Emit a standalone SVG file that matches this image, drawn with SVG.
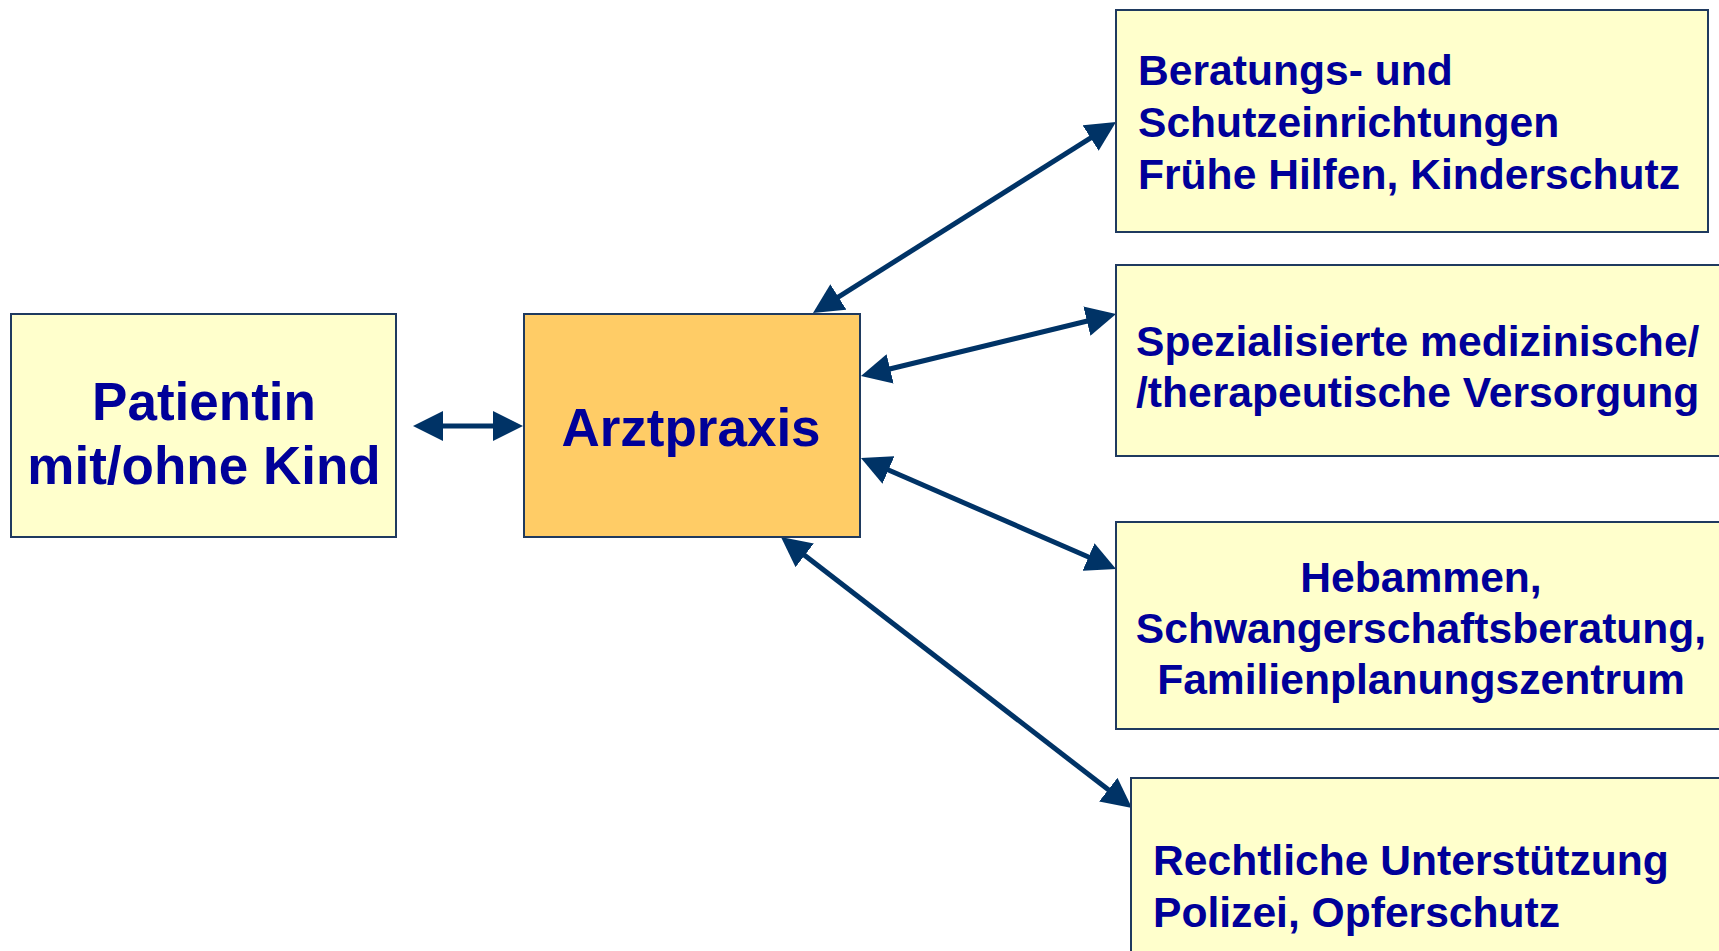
<svg xmlns="http://www.w3.org/2000/svg" width="1719" height="951" viewBox="0 0 1719 951">
<style>
.box{fill:#FFFFCC;stroke:#1F3A5F;stroke-width:2}
.main{fill:#FFCC66;stroke:#1F3A5F;stroke-width:2}
.t{font-family:"Liberation Sans",Arial,sans-serif;font-weight:bold;fill:#000099}
.big{font-size:53px}
.sm{font-size:42.6px}
.c{text-anchor:middle}
.arr{stroke:#003366;stroke-width:5;fill:none;marker-start:url(#ah);marker-end:url(#ah)}
</style>
<defs>
<marker id="ah" viewBox="0 0 30 30" markerWidth="30" markerHeight="30" refX="10" refY="15" orient="auto-start-reverse" markerUnits="userSpaceOnUse">
<path d="M0,0 L30,15 L0,30 z" fill="#003366"/>
</marker>
</defs>
<rect width="1719" height="951" fill="#FFFFFF"/>
<g id="connectors">
<line class="arr" x1="433" y1="426" x2="503" y2="426"/>
<line class="arr" x1="829.9" y1="302.3" x2="1099.1" y2="132.7"/>
<line class="arr" x1="880.4" y1="371.3" x2="1096.6" y2="318.7"/>
<line class="arr" x1="879.3" y1="466" x2="1097.7" y2="561"/>
<line class="arr" x1="796.8" y1="549.2" x2="1116.2" y2="795.8"/>
</g>
<g id="patientin">
<rect class="box" x="11" y="314" width="385" height="223"/>
<text class="t big c" x="204" y="420">Patientin</text>
<text class="t big c" x="204" y="484">mit/ohne Kind</text>
</g>
<g id="arztpraxis">
<rect class="main" x="524" y="314" width="336" height="223"/>
<text class="t big c" x="691" y="446">Arztpraxis</text>
</g>
<g id="beratung">
<rect class="box" x="1116" y="10" width="592" height="222"/>
<text class="t sm" x="1138" y="85">Beratungs- und</text>
<text class="t sm" x="1138" y="137">Schutzeinrichtungen</text>
<text class="t sm" x="1138" y="189">Frühe Hilfen, Kinderschutz</text>
</g>
<g id="spezialisiert">
<rect class="box" x="1116" y="265" width="620" height="191"/>
<text class="t sm" x="1136" y="356">Spezialisierte medizinische/</text>
<text class="t sm" x="1136" y="407">/therapeutische Versorgung</text>
</g>
<g id="hebammen">
<rect class="box" x="1116" y="522" width="620" height="207"/>
<text class="t sm c" x="1421" y="592">Hebammen,</text>
<text class="t sm c" x="1421" y="643">Schwangerschaftsberatung,</text>
<text class="t sm c" x="1421" y="694">Familienplanungszentrum</text>
</g>
<g id="rechtlich">
<rect class="box" x="1131" y="778" width="620" height="200"/>
<text class="t sm" x="1153" y="875">Rechtliche Unterstützung</text>
<text class="t sm" x="1153" y="927">Polizei, Opferschutz</text>
</g>
</svg>
